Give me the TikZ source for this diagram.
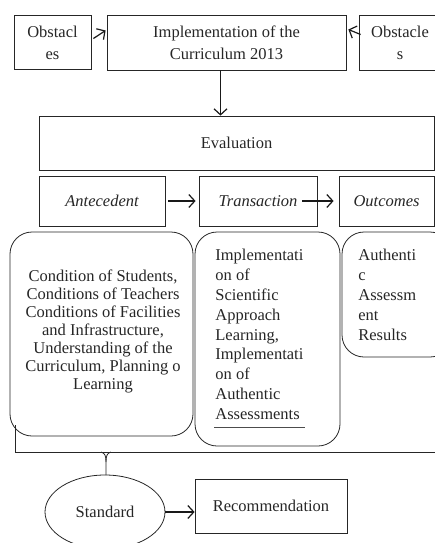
\documentclass[tikz,border=0pt]{standalone}
\usepackage{fontspec}
\setmainfont{Liberation Serif}
\usetikzlibrary{arrows.meta,shapes.geometric}

\begin{document}
\begin{tikzpicture}[x=1pt,y=-1pt,
    line width=0.8pt,
    every node/.style={text=black!85,font=\fontsize{16.5}{22}\selectfont},
    box/.style={draw=black!85,rectangle,inner sep=0pt,align=center},
    rbox/.style={draw=black!85,rectangle,rounded corners=22pt,inner sep=0pt},
    arr/.style={draw=black!90,line width=1.2pt,-{Straight Barb[length=6pt,width=13pt]}}]
    \clip (0,0) rectangle (435,543);

    % top row
    \node[box,minimum width=77pt,minimum height=54pt] (obsL) at (52.5,42.5) {Obstacl\\es};
    \node[box,minimum width=239pt,minimum height=55pt] (impl) at (226.5,42.5) {Implementation of the\\Curriculum 2013};
    \node[box,minimum width=82pt,minimum height=55pt] (obsR) at (400,42.5) {Obstacle\\s};
    \draw[arr] ([shift={(2pt,4pt)}]obsL.east) -- ([shift={(-1pt,12pt)}]impl.west);
    \draw[arr] ([shift={(2pt,8pt)}]obsR.west) -- ([shift={(2pt,13pt)}]impl.east);

    \node[box,minimum width=395pt,minimum height=54pt] (eval) at (236.5,143) {Evaluation};
    \draw[arr] ([xshift=-6pt]impl.south) -- ([xshift=-6pt]impl.south |- eval.north);

    % antecedent, transaction, outcomes
    \begin{scope}[every node/.append style={font=\fontsize{16.5}{22}\selectfont\itshape}]
      \node[box,minimum width=126pt,minimum height=50pt] (ante) at (102,201) {Antecedent};
      \node[box,minimum width=118pt,minimum height=50pt] (trans) at (258,201) {Transaction};
      \node[box,minimum width=95pt,minimum height=50pt] (outc) at (386.5,201) {Outcomes};
    \end{scope}
    \draw[arr] ([xshift=3pt]ante.east) -- ([xshift=-3pt]trans.west);
    \draw[arr] ([xshift=-15pt]trans.east) -- ([xshift=-5pt]outc.west);

    % contents
    \node[rbox,minimum width=183pt,minimum height=204pt] (condBox) at (101.5,334) {};
    \node[rbox,minimum width=145pt,minimum height=214pt] (implBox) at (267.5,339) {};
    \node[rbox,minimum width=110pt,minimum height=125pt] (resBox) at (397,294.5) {};
    \node[align=center,inner sep=0pt,font=\fontsize{16.5}{18}\selectfont] (condText) at (103,331)
      {Condition of Students,\\Conditions of Teachers\\Conditions of Facilities\\and Infrastructure,\\Understanding of the\\Curriculum, Planning o\\Learning};
    \node[align=left,inner sep=0pt,anchor=north west,font=\fontsize{16.5}{19.8}\selectfont] (implText) at (215,249)
      {Implementati\\on of\\Scientific\\Approach\\Learning,\\Implementati\\on of\\Authentic\\Assessments};
    \node[align=left,inner sep=0pt,anchor=north west,font=\fontsize{16.5}{19.8}\selectfont] (resText) at (358,249)
      {Authenti\\c\\Assessm\\ent\\Results};
    \draw[line width=0.5pt,black!70] (214,427) -- (305,427);

    % bracket
    \draw[black!85] (15,425) -- (15,452) -- (440,452);
    \node[draw=black!85,ellipse,minimum width=120pt,minimum height=74pt,inner sep=0pt] (std) at (105,512) {Standard};
    \draw[black!85] (101,452) .. controls (105,453) and (106,456) .. (106,462) -- (106,475);
    \draw[black!85] (111,452) .. controls (107,453) and (106,456) .. (106,462);

    \node[box,minimum width=152pt,minimum height=54pt] (rec) at (271,506) {Recommendation};
    \draw[arr] (std.east) -- (std.east -| rec.west);
\end{tikzpicture}
\end{document}
